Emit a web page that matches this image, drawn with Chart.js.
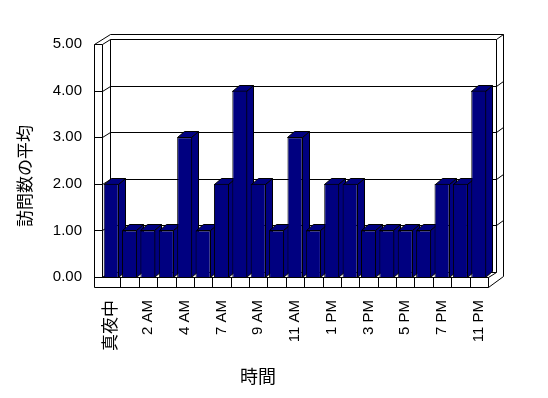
<!DOCTYPE html>
<html>
<head>
<meta charset="utf-8">
<script src="https://cdn.jsdelivr.net/npm/chart.js@4/dist/chart.umd.min.js"></script>
<style>
  body { margin: 0; background: #fff; }
  canvas { display: block; }
</style>
</head>
<body>
<canvas id="visitChart" width="548" height="398"></canvas>
<script>
// hours shown on the category axis (every other one is labelled)
const hours = ["真夜中", "1 AM", "2 AM", "3 AM", "4 AM", "5 AM", "7 AM", "8 AM", "9 AM", "10 AM", "11 AM",
  "正午", "1 PM", "2 PM", "3 PM", "4 PM", "5 PM", "6 PM", "7 PM", "9 PM", "11 PM"];
const avgVisits = [2, 1, 1, 1, 3, 1, 2, 4, 2, 1, 3, 1, 2, 2, 1, 1, 1, 1, 2, 2, 4];
const yMin = 0;
const yMax = 5;
const yStep = 1;
const yTitle = "訪問数の平均";
const xTitle = "時間";

const NAVY = "#000080";
const cjk = '"Noto Sans CJK JP", sans-serif';

function strokePath(ctx, pts) {
  ctx.beginPath();
  pts.forEach(([px, py], i) => {
    const sx = Math.round(px) + 0.5, sy = Math.round(py) + 0.5;
    if (i) ctx.lineTo(sx, sy); else ctx.moveTo(sx, sy);
  });
  ctx.stroke();
}

function fillPath(ctx, pts) {
  ctx.beginPath();
  pts.forEach(([px, py], i) => {
    const sx = Math.round(px) + 0.5, sy = Math.round(py) + 0.5;
    if (i) ctx.lineTo(sx, sy); else ctx.moveTo(sx, sy);
  });
  ctx.closePath();
  ctx.fill();
  ctx.stroke();
}

// walls, floor and the depth faces of the columns
const frame3d = {
  id: "frame3d",
  beforeDatasetsDraw(chart) {
    const { ctx, chartArea: a, scales: { x, y } } = chart;
    const L = a.left, R = a.right, T = a.top, B = a.bottom;
    const dx = 8, dy = -5;   // wall depth
    const th = 8, fl = 10;   // wall / floor thickness
    ctx.save();
    ctx.strokeStyle = "#000";
    ctx.lineWidth = 1;

    // gridlines across left wall and back wall
    y.ticks.forEach(t => {
      const py = y.getPixelForValue(t.value);
      const pts = [[L - th, py], [L, py], [L + dx, py + dy], [R + dx, py + dy]];
      if (t.value > yMin) pts.push([R + dx + 7, py + dy - 5]);
      strokePath(ctx, pts);
    });

    // wall edges
    strokePath(ctx, [[L - th, T], [L - th, B + fl]]);
    strokePath(ctx, [[L, T], [L, B]]);
    strokePath(ctx, [[L + dx, T + dy], [L + dx, B + dy]]);
    strokePath(ctx, [[R + dx, T + dy], [R + dx, B + dy]]);
    strokePath(ctx, [[L - th, T], [L + dx, T + dy - 5], [R + dx + 7, T + dy - 5], [R + dx + 7, B - 1], [R, B + fl]]);

    // floor
    strokePath(ctx, [[L, B], [R, B], [R + dx, B + dy]]);
    strokePath(ctx, [[L - th, B + fl], [R, B + fl], [R, B]]);
    strokePath(ctx, [[L, B], [L + dx, B + dy]]);
    for (let i = 0; i < hours.length - 1; i++) {
      const bx = (x.getPixelForValue(i) + x.getPixelForValue(i + 1)) / 2;
      strokePath(ctx, [[bx, B], [bx, B + fl]]);
    }

    // column tops and sides
    const bdx = 7, bdy = -6;
    ctx.fillStyle = NAVY;
    chart.getDatasetMeta(0).data.forEach(bar => {
      const { x: cx, y: top, base, width } = bar.getProps(["x", "y", "base", "width"], true);
      const l = cx - width / 2, r = cx + width / 2 - 1;
      fillPath(ctx, [[r, top], [r + bdx, top + bdy], [r + bdx, base + bdy], [r, base]]);
      fillPath(ctx, [[l, top], [l + bdx, top + bdy], [r + bdx, top + bdy], [r, top]]);
    });
    ctx.restore();
  },
  afterDraw(chart) {
    const { ctx } = chart;
    ctx.save();
    ctx.fillStyle = "#000";
    ctx.textAlign = "center";
    ctx.textBaseline = "middle";
    ctx.font = "17px " + cjk;
    ctx.translate(25, 176);
    ctx.rotate(-Math.PI / 2);
    ctx.fillText(yTitle, 0, 0);
    ctx.restore();

    ctx.save();
    ctx.fillStyle = "#000";
    ctx.textAlign = "center";
    ctx.textBaseline = "middle";
    ctx.font = "18px " + cjk;
    ctx.fillText(xTitle, 258, 376);
    ctx.restore();
  }
};

Chart.defaults.color = "#000";

new Chart(document.getElementById("visitChart"), {
  type: "bar",
  data: {
    labels: hours,
    datasets: [{
      data: avgVisits,
      backgroundColor: NAVY,
      borderColor: "#000",
      borderWidth: 1,
      barPercentage: 0.82,
      categoryPercentage: 1
    }]
  },
  options: {
    responsive: false,
    animation: false,
    layout: { padding: { top: 44, right: 60, left: 0, bottom: 0 } },
    plugins: { legend: { display: false }, tooltip: { enabled: false } },
    scales: {
      x: {
        grid: { display: false, drawTicks: false },
        border: { display: false },
        afterFit: s => { s.height = 121; },
        ticks: {
          autoSkip: false,
          minRotation: 90,
          maxRotation: 90,
          padding: 23,
          font: c => ({ family: '"Liberation Sans", ' + cjk, size: c.index === 0 ? 17 : 15 }),
          callback: (v, i) => (i % 2 === 0 ? hours[i] : "")
        }
      },
      y: {
        min: yMin,
        max: yMax,
        grid: { display: false, drawTicks: false },
        border: { display: false },
        afterFit: s => { s.width = 102; },
        ticks: {
          stepSize: yStep,
          padding: 20,
          font: { family: '"Liberation Sans", sans-serif', size: 15 },
          callback: v => v.toFixed(2)
        }
      }
    }
  },
  plugins: [frame3d]
});
</script>
</body>
</html>
